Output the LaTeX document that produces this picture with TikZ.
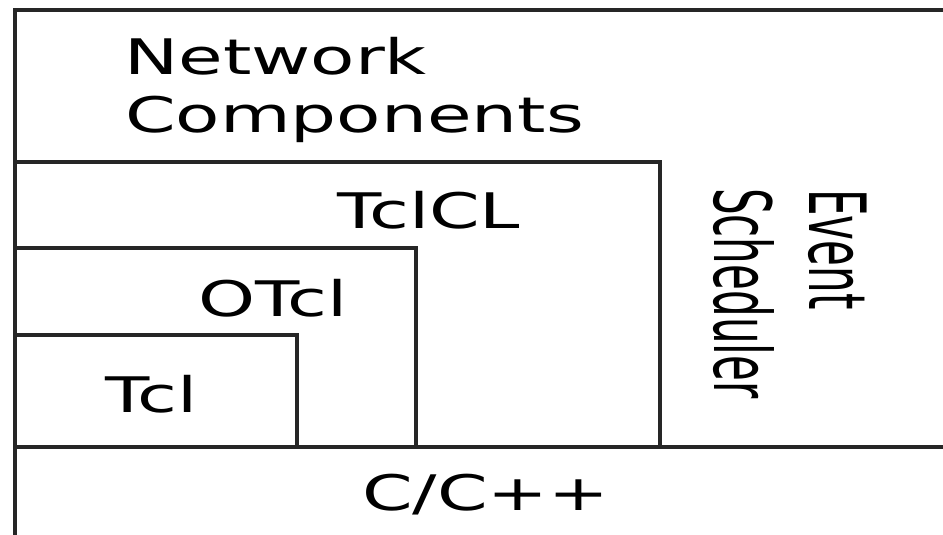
\documentclass[tikz,border=0pt]{standalone}
\usepackage{fontspec}
\setmainfont{DejaVu Sans}

\begin{document}
\begin{tikzpicture}[x=1pt, y=-1pt,
	   ln/.style={draw=black!85, line width=4pt},
	   lbl/.style={anchor=base west, inner sep=0pt, font=\fontsize{49}{57}\selectfont},
	   vlbl/.style={lbl, rotate=-90, font=\fontsize{42}{50}\selectfont}]
	  \useasboundingbox (0,0) rectangle (943,535);
	  \clip (0,0) rectangle (943,535);
	  % frame, open to the right and below
	  \draw[ln] (960,10) -- (15,10) -- (15,560);
	  \draw[ln] (15,447) -- (960,447);
	  % nested layers
	  \draw[ln] (15,162) -- (660,162) -- (660,447);
	  \draw[ln] (15,248) -- (416,248) -- (416,447);
	  \draw[ln] (15,335) -- (297,335) -- (297,447);
	  \node[lbl] (NC) at (124,75) {\scalebox{1.48}[1]{Network}};
	  \node[lbl] (Comp) at (125,132) {\scalebox{1.48}[1]{Components}};
	  \node[lbl] (TclCL) at (337,228) {\scalebox{1.48}[1]{TclCL}};
	  \node[lbl] (OTcl) at (198,316) {\scalebox{1.48}[1]{OTcl}};
	  \node[lbl] (Tcl) at (105,412) {\scalebox{1.48}[1]{Tcl}};
	  \node[lbl] (CC) at (362,510) {\scalebox{1.48}[1]{C/C++}};
	  \node[vlbl] (Ev) at (809,189) {\scalebox{1}[1.88]{Event}};
	  \node[vlbl] (Sch) at (714,188) {\scalebox{1}[1.88]{Scheduler}};
	\end{tikzpicture}
\end{document}
